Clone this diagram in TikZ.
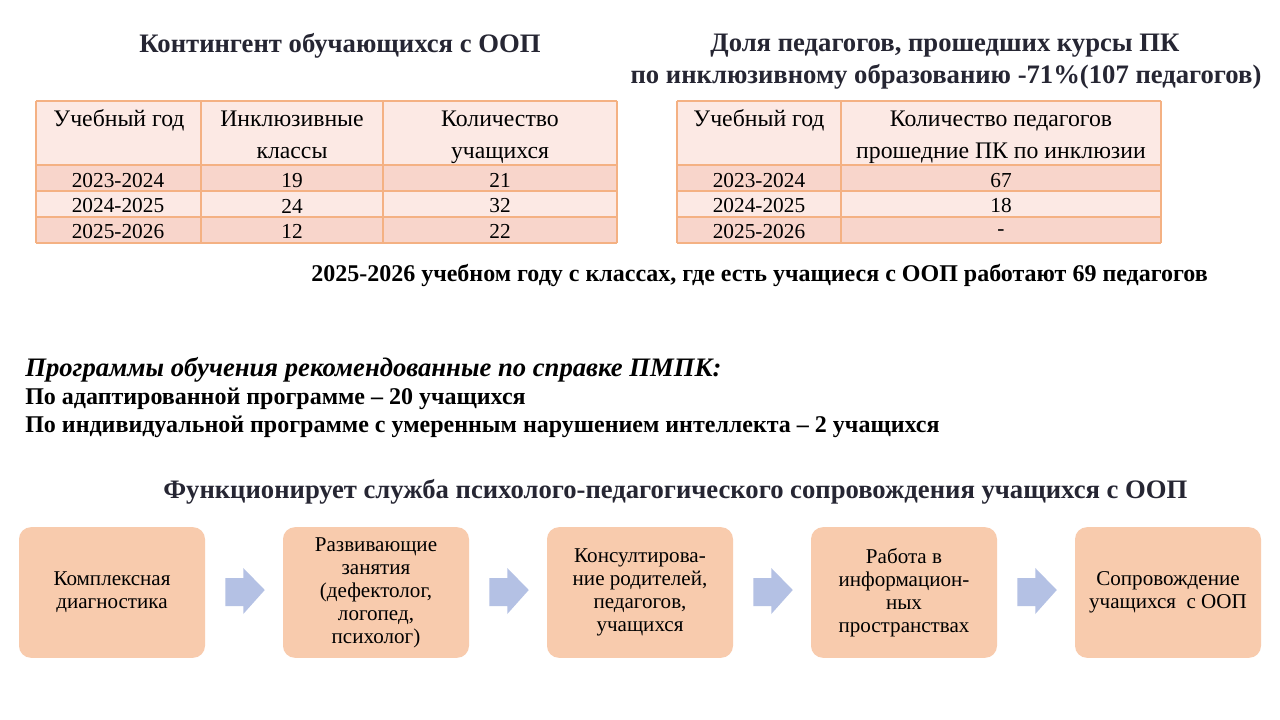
\documentclass[tikz,border=0pt]{standalone}
\usepackage{fontspec}
\setmainfont{Liberation Serif}
\usetikzlibrary{calc}
\definecolor{titlec}{HTML}{262633}
\definecolor{hdrc}{HTML}{FCE9E4}
\definecolor{darkc}{HTML}{F8D5CB}
\definecolor{lightc}{HTML}{FCE9E4}
\definecolor{borderc}{HTML}{F4B183}
\definecolor{boxc}{HTML}{F8CBAD}
\definecolor{arrc}{HTML}{B4C1E4}
\tikzset{
  cell/.style={inner sep=0pt, font=\fontsize{16}{24}\selectfont},
  hcell/.style={inner sep=0pt, anchor=base, font=\fontsize{17.8}{24}\selectfont},
  title/.style={inner sep=0pt, text=titlec, font=\fontsize{20}{24}\selectfont\bfseries},
  flowbox/.style={draw=none, fill=boxc, rounded corners=9pt, minimum width=139.5pt, minimum height=98pt, align=center, inner sep=2pt, font=\fontsize{15.8}{17.3}\selectfont},
  tline/.style={draw=borderc, line width=0.9pt},
  plain/.style={inner sep=0pt, anchor=west},
}
\begin{document}
\begin{tikzpicture}[x=0.75pt,y=-0.75pt]
\useasboundingbox (0,0) rectangle (1280,720);
\fill[white] (0,0) rectangle (1280,720);

% titles
\node[title] (t1) at (340,46) {Контингент обучающихся с ООП};
\node[title] (t2a) at (945,46) {Доля педагогов, прошедших курсы ПК};
\node[title] (t2b) at (946,77) {по инклюзивному образованию -71\%(107 педагогов)};

% left table fills
\fill[hdrc] (36,101) rectangle (617,165);
\fill[darkc] (36,165) rectangle (617,191);
\fill[lightc] (36,191) rectangle (617,217);
\fill[darkc] (36,217) rectangle (617,243);
\foreach \yy in {101,165,191,217,243} \draw[tline] (36,\yy) -- (617,\yy);
\foreach \xx in {36,201,383,617} \draw[tline] (\xx,101) -- (\xx,243);

\node[hcell] (l11) at (119,127) {Учебный год};
\node[hcell] (l12) at (292,127) {Инклюзивные};
\node[hcell] (l12b) at (292,159) {классы};
\node[hcell] (l13) at (500,127) {Количество};
\node[hcell] (l13b) at (500,159) {учащихся};
\node[cell] (l21) at (118,180.5) {2023-2024};
\node[cell] (l22) at (292,180.5) {19};
\node[cell] (l23) at (500,180.5) {21};
\node[cell] (l31) at (118,206) {2024-2025};
\node[cell] (l32) at (292,206) {24};
\node[cell] (l33) at (500,206) {32};
\node[cell] (l41) at (118,231.5) {2025-2026};
\node[cell] (l42) at (292,231.5) {12};
\node[cell] (l43) at (500,231.5) {22};

% right table fills
\fill[hdrc] (677,101) rectangle (1161,165);
\fill[darkc] (677,165) rectangle (1161,191);
\fill[lightc] (677,191) rectangle (1161,217);
\fill[darkc] (677,217) rectangle (1161,243);
\foreach \yy in {101,165,191,217,243} \draw[tline] (677,\yy) -- (1161,\yy);
\foreach \xx in {677,841,1161} \draw[tline] (\xx,101) -- (\xx,243);

\node[hcell] (r11) at (759,127) {Учебный год};
\node[hcell] (r12) at (1001,127) {Количество педагогов};
\node[hcell] (r12b) at (1001,159) {прошедние ПК по инклюзии};
\node[cell] (r21) at (759,180.5) {2023-2024};
\node[cell] (r22) at (1001,180.5) {67};
\node[cell] (r31) at (759,206) {2024-2025};
\node[cell] (r32) at (1001,206) {18};
\node[cell] (r41) at (759,231.5) {2025-2026};
\node[cell] (r42) at (1001,233) {-};

% middle line
\node[plain, font=\fontsize{18}{24}\selectfont\bfseries] (mid) at (311,275) {2025-2026 учебном году с классах, где есть учащиеся с ООП работают 69 педагогов};

% programs
\node[plain, font=\fontsize{20}{24}\selectfont\bfseries\itshape] (p1) at (25,370) {Программы обучения рекомендованные по справке ПМПК:};
\node[plain, font=\fontsize{18}{24}\selectfont\bfseries] (p2) at (25,398.5) {По адаптированной программе – 20 учащихся};
\node[plain, font=\fontsize{18}{24}\selectfont\bfseries] (p3) at (25,427) {По индивидуальной программе с умеренным нарушением интеллекта – 2 учащихся};

% bottom title
\node[plain, text=titlec, font=\fontsize{20}{24}\selectfont\bfseries] (st) at (163,492) {Функционирует служба психолого-педагогического сопровождения учащихся с ООП};

% flow boxes
\node[flowbox] (b1) at (112,592.5) {Комплексная\\диагностика};
\node[flowbox] (b2) at (376,592.5) {Развивающие\\занятия\\(дефектолог,\\логопед,\\психолог)};
\node[flowbox] (b3) at (640,592.5) {Консултирова-\\ние родителей,\\педагогов,\\учащихся};
\node[flowbox] (b4) at (904,592.5) {Работа в\\информацион-\\ных\\пространствах};
\node[flowbox] (b5) at (1168,592.5) {Сопровождение\\учащихся~ с ООП};

% block arrows
\foreach \a/\b in {b1/b2,b2/b3,b3/b4,b4/b5}{
  \fill[arrc] ($(\a.east)+(20,-14.5)$) -- ($(\a.east)+(38,-14.5)$) -- ($(\a.east)+(38,-24.5)$)
     -- ($(\b.west)+(-18,-2.5)$) -- ($(\a.east)+(38,21.5)$) -- ($(\a.east)+(38,13.5)$)
     -- ($(\a.east)+(20,13.5)$) -- cycle;
}
\end{tikzpicture}
\end{document}
